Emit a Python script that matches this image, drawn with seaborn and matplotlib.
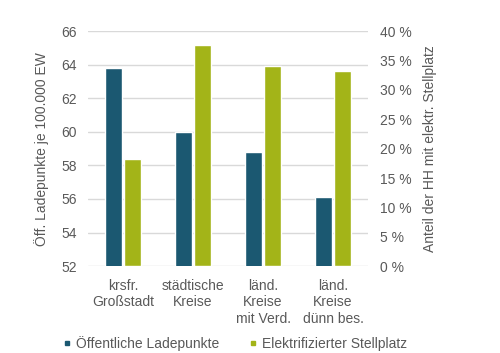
import matplotlib
matplotlib.use("Agg")
import matplotlib.pyplot as plt
import pandas as pd
import seaborn as sns
from matplotlib.lines import Line2D

categories = ["krsfr.\nGroßstadt", "städtische\nKreise", "länd.\nKreise\nmit Verd.", "länd.\nKreise\ndünn bes."]
ladepunkte = [63.8, 60.0, 58.8, 56.1]
stellplatz_pct = [18.3, 37.7, 34.1, 33.2]
series = ["Öffentliche Ladepunkte", "Elektrifizierter Stellplatz"]
left_ticks = [52, 54, 56, 58, 60, 62, 64, 66]
right_ticks = [0, 5, 10, 15, 20, 25, 30, 35, 40]

BLUE = "#1b5871"
GREEN = "#a3b418"
TXT = "#595959"
GRID = "#d9d9d9"
FS = 10

sns.set_theme(style="white")
plt.rcParams["font.family"] = ["Liberation Sans", "DejaVu Sans"]

df_left = pd.DataFrame({"cat": categories, "val": ladepunkte, "series": series[0]})
df_right = pd.DataFrame({"cat": categories, "val": stellplatz_pct, "series": series[1]})
palette = {series[0]: BLUE, series[1]: GREEN}

fig = plt.figure(figsize=(5.0, 3.53), dpi=100)
ax = fig.add_axes([0.176, 0.246, 0.56, 0.666])
ax2 = ax.twinx()

# each axis gets its own series, hue_order keeps the dodge slot for the other one
bar_kw = dict(x="cat", y="val", hue="series", hue_order=series, palette=palette,
              order=categories, width=0.57, gap=0.15, dodge=True, saturation=1,
              legend=False, zorder=3)
sns.barplot(data=df_left, ax=ax, **bar_kw)
sns.barplot(data=df_right, ax=ax2, **bar_kw)

ax.set_ylim(52, 66)
ax.set_yticks(left_ticks)
ax2.set_ylim(0, 40)
ax2.set_yticks(right_ticks)
ax2.set_yticklabels([f"{t} %" for t in right_ticks])
ax.set_xlim(-0.5, 3.5)

for t in left_ticks:
    ax.axhline(t, color=GRID, lw=1, zorder=0)

for a in (ax, ax2):
    for s in a.spines.values():
        s.set_visible(False)
    a.tick_params(length=0, colors=TXT, labelsize=FS)
    a.set_xlabel("")

ax.tick_params(axis="y", pad=8)
ax2.tick_params(axis="y", pad=9)
ax.tick_params(axis="x", pad=9)
ax.set_ylabel("Öff. Ladepunkte je 100.000 EW", color=TXT, fontsize=FS, labelpad=9)
ax2.set_ylabel("Anteil der HH mit elektr. Stellplatz", color=TXT, fontsize=FS, labelpad=8)
for lbl in ax.get_xticklabels():
    lbl.set_linespacing(1.25)

handles = [Line2D([], [], marker="s", ls="", color=BLUE, markersize=3.5),
           Line2D([], [], marker="s", ls="", color=GREEN, markersize=3.5)]
leg = fig.legend(handles, series, loc="lower center", bbox_to_anchor=(0.47, -0.03),
                 ncol=2, frameon=False, fontsize=FS, handlelength=0.5,
                 handletextpad=0.4, columnspacing=2.2)
for t in leg.get_texts():
    t.set_color(TXT)

fig.savefig("out.png", dpi=100)
